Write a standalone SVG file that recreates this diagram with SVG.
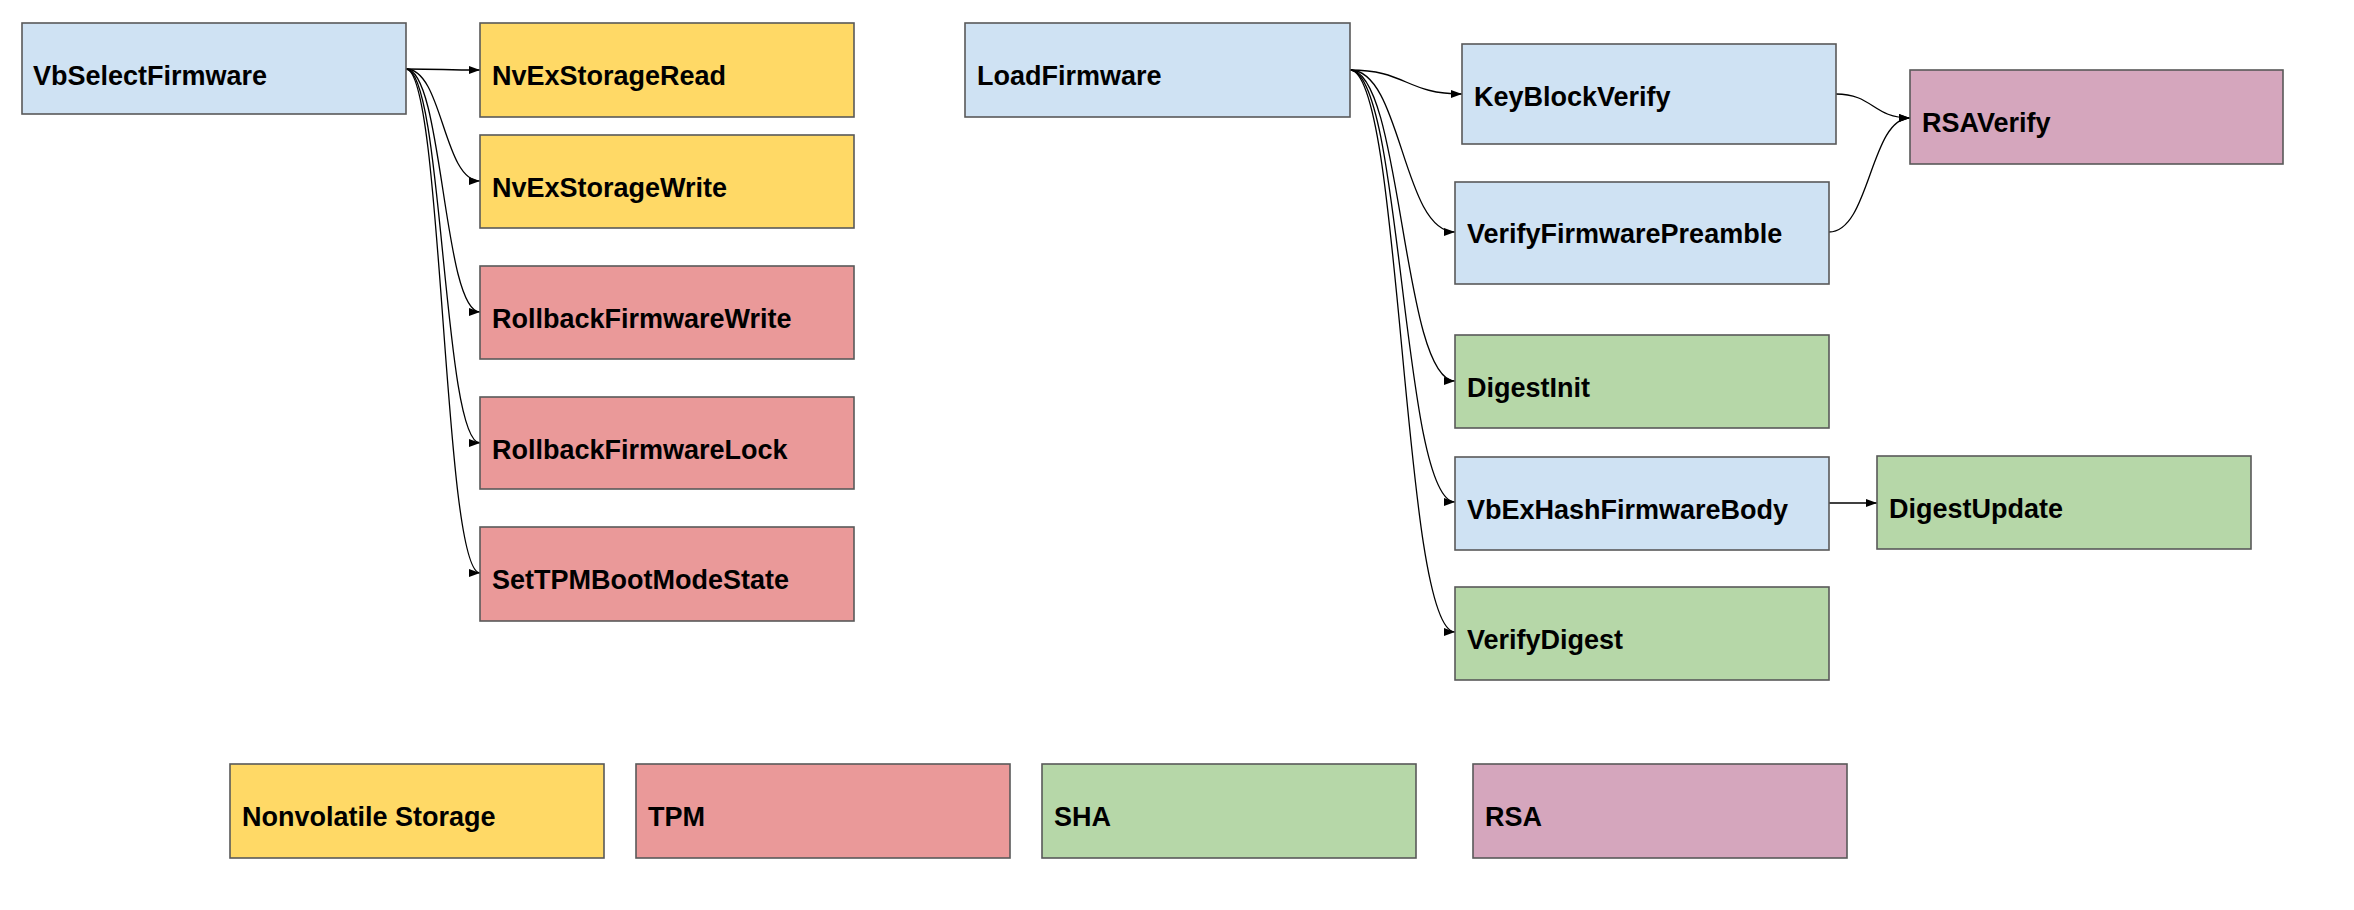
<svg xmlns="http://www.w3.org/2000/svg" width="2354" height="910" viewBox="0 0 2354 910">
<style>
.box{stroke:#595959;stroke-width:1.6}
.blue{fill:#cfe2f3}
.yellow{fill:#ffd966}
.red{fill:#ea9999}
.green{fill:#b6d7a8}
.purple{fill:#d5a6bd}
text{font-family:"Liberation Sans",Arial,sans-serif;font-weight:bold;font-size:27px;fill:#000}
.conn path{fill:none;stroke:#000;stroke-width:1.3}
</style>
<defs>
<marker id="arr" markerUnits="userSpaceOnUse" markerWidth="12" markerHeight="9" refX="11" refY="4" orient="auto">
<path d="M0,0 L11,4 L0,8 z" fill="#000"/>
</marker>
</defs>
<rect width="2354" height="910" fill="#fff"/>
<g class="conn" id="connectors">
<path d="M406,69 C443,69 443,70 480,70" marker-end="url(#arr)"/>
<path d="M406,69 C443,69 443,181 480,181" marker-end="url(#arr)"/>
<path d="M406,69 C443,69 443,312 480,312" marker-end="url(#arr)"/>
<path d="M406,69 C443,69 443,443 480,443" marker-end="url(#arr)"/>
<path d="M406,69 C443,69 443,573 480,573" marker-end="url(#arr)"/>
<path d="M1350,70 C1406,70 1406,94 1462,94" marker-end="url(#arr)"/>
<path d="M1350,70 C1402,70 1402,232 1455,232" marker-end="url(#arr)"/>
<path d="M1350,70 C1402,70 1402,381 1455,381" marker-end="url(#arr)"/>
<path d="M1350,70 C1402,70 1402,502 1455,502" marker-end="url(#arr)"/>
<path d="M1350,70 C1402,70 1402,632 1455,632" marker-end="url(#arr)"/>
<path d="M1836,94 C1873,94 1873,118 1910,118" marker-end="url(#arr)"/>
<path d="M1829,232 C1870,232 1870,118 1910,118" marker-end="url(#arr)"/>
<path d="M1829,503 L1877,503" marker-end="url(#arr)"/>
</g>
<g id="VbSelectFirmware"><rect class="box blue" x="22" y="23" width="384" height="91"/><text x="33" y="85">VbSelectFirmware</text></g>
<g id="NvExStorageRead"><rect class="box yellow" x="480" y="23" width="374" height="94"/><text x="492" y="85">NvExStorageRead</text></g>
<g id="NvExStorageWrite"><rect class="box yellow" x="480" y="135" width="374" height="93"/><text x="492" y="197">NvExStorageWrite</text></g>
<g id="RollbackFirmwareWrite"><rect class="box red" x="480" y="266" width="374" height="93"/><text x="492" y="328">RollbackFirmwareWrite</text></g>
<g id="RollbackFirmwareLock"><rect class="box red" x="480" y="397" width="374" height="92"/><text x="492" y="459">RollbackFirmwareLock</text></g>
<g id="SetTPMBootModeState"><rect class="box red" x="480" y="527" width="374" height="94"/><text x="492" y="589">SetTPMBootModeState</text></g>
<g id="LoadFirmware"><rect class="box blue" x="965" y="23" width="385" height="94"/><text x="977" y="85">LoadFirmware</text></g>
<g id="KeyBlockVerify"><rect class="box blue" x="1462" y="44" width="374" height="100"/><text x="1474" y="106">KeyBlockVerify</text></g>
<g id="RSAVerify"><rect class="box purple" x="1910" y="70" width="373" height="94"/><text x="1922" y="132">RSAVerify</text></g>
<g id="VerifyFirmwarePreamble"><rect class="box blue" x="1455" y="182" width="374" height="102"/><text x="1467" y="243">VerifyFirmwarePreamble</text></g>
<g id="DigestInit"><rect class="box green" x="1455" y="335" width="374" height="93"/><text x="1467" y="397">DigestInit</text></g>
<g id="VbExHashFirmwareBody"><rect class="box blue" x="1455" y="457" width="374" height="93"/><text x="1467" y="519">VbExHashFirmwareBody</text></g>
<g id="DigestUpdate"><rect class="box green" x="1877" y="456" width="374" height="93"/><text x="1889" y="518">DigestUpdate</text></g>
<g id="VerifyDigest"><rect class="box green" x="1455" y="587" width="374" height="93"/><text x="1467" y="649">VerifyDigest</text></g>
<g id="legend-nonvolatile"><rect class="box yellow" x="230" y="764" width="374" height="94"/><text x="242" y="826">Nonvolatile Storage</text></g>
<g id="legend-tpm"><rect class="box red" x="636" y="764" width="374" height="94"/><text x="648" y="826">TPM</text></g>
<g id="legend-sha"><rect class="box green" x="1042" y="764" width="374" height="94"/><text x="1054" y="826">SHA</text></g>
<g id="legend-rsa"><rect class="box purple" x="1473" y="764" width="374" height="94"/><text x="1485" y="826">RSA</text></g>
</svg>
